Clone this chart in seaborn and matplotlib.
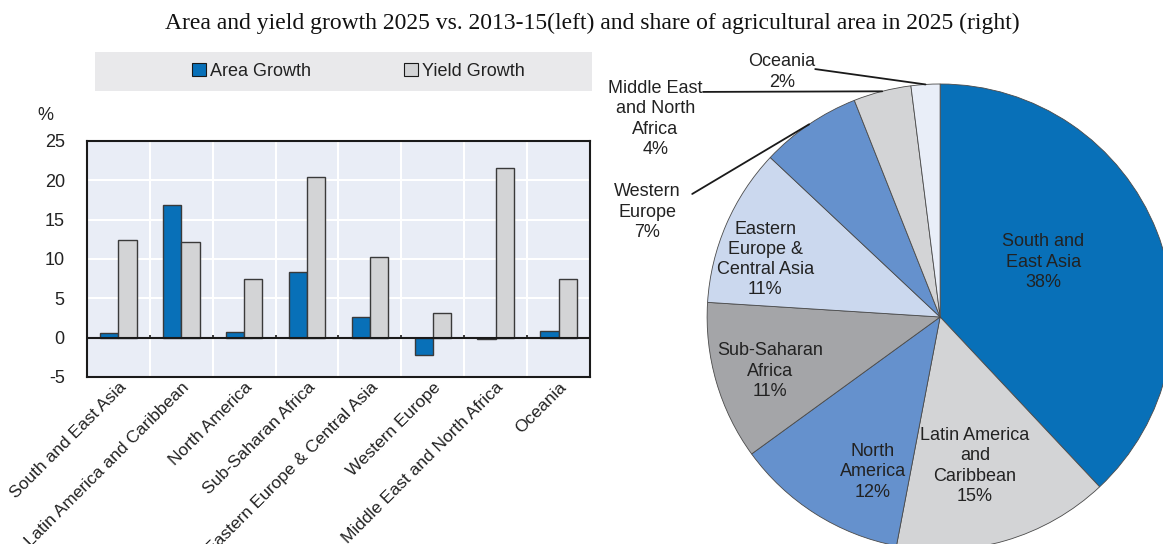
import numpy as np
import pandas as pd
import matplotlib
matplotlib.use("Agg")
import matplotlib.pyplot as plt
from matplotlib.patches import Patch
import seaborn as sns

# data
regions = ["South and East Asia", "Latin America and Caribbean", "North America",
           "Sub-Saharan Africa", "Eastern Europe & Central Asia", "Western Europe",
           "Middle East and North Africa", "Oceania"]
area_growth = [0.6, 16.8, 0.7, 8.3, 2.6, -2.2, -0.2, 0.8]
yield_growth = [12.4, 12.1, 7.4, 20.4, 10.2, 3.1, 21.6, 7.4]

pie_labels = ["South and\nEast Asia", "Latin America\nand\nCaribbean", "North\nAmerica",
              "Sub-Saharan\nAfrica", "Eastern\nEurope &\nCentral Asia", "Western\nEurope",
              "Middle East\nand North\nAfrica", "Oceania"]
pie_shares = [38, 15, 12, 11, 11, 7, 4, 2]

BLUE = "#0870b8"
GREY = "#d3d4d6"
pie_colors = [BLUE, GREY, "#6591cd", "#a4a5a8", "#cbd8ee", "#6591cd", GREY, "#e9eef8"]

sns.set_theme(style="white")
plt.rcParams["font.family"] = ["Liberation Sans Narrow", "Liberation Sans", "DejaVu Sans"]
plt.rcParams["text.color"] = "#222222"
plt.rcParams["axes.unicode_minus"] = False

fig = plt.figure(figsize=(11.63, 5.44), dpi=100)

fig.text(0.509, 0.957, "Area and yield growth 2025 vs. 2013-15(left) and share of agricultural area in 2025 (right)",
         ha="center", va="center", fontsize=17, family=["Liberation Serif", "DejaVu Serif"], color="#111111")

# ---- bar chart ----
ax = fig.add_axes([0.0748, 0.307, 0.4325, 0.434])
df = pd.DataFrame({
    "region": regions * 2,
    "value": area_growth + yield_growth,
    "series": ["Area Growth"] * len(regions) + ["Yield Growth"] * len(regions),
})
sns.barplot(data=df, x="region", y="value", hue="series", palette=[BLUE, GREY], saturation=1,
            width=0.58, edgecolor="#3a3a3a", linewidth=1, legend=False, ax=ax)
ax.set_facecolor("#e9edf6")
ax.set_ylim(-5, 25)
ax.set_xlim(-0.5, len(regions) - 0.5)
ax.set_yticks(np.arange(-5, 26, 5))
ax.set_xticks(np.arange(len(regions)) + 0.5, minor=True)
ax.grid(axis="y", which="major", color="white", linewidth=1.5)
ax.grid(axis="x", which="minor", color="white", linewidth=1.5)
ax.grid(axis="x", which="major", visible=False)
ax.set_axisbelow(True)
ax.axhline(0, color="#1a1a1a", linewidth=1.5)
ax.vlines(np.arange(len(regions) - 1) + 0.5, 0, 0.35, color="#1a1a1a", linewidth=1.2)
ax.tick_params(axis="both", which="both", length=0, labelcolor="#222222")
ax.tick_params(axis="y", labelsize=13, pad=16)
ax.tick_params(axis="x", labelsize=12.5, pad=2)
plt.setp(ax.get_xticklabels(), rotation=45, ha="right", rotation_mode="anchor")
ax.set_xlabel("")
ax.set_ylabel("")
for s in ax.spines.values():
    s.set_color("#1a1a1a")
    s.set_linewidth(1.5)
fig.text(45 / 1163, 1 - 115 / 544, "%", fontsize=13, ha="center", va="center")

# legend strip
lax = fig.add_axes([0.0817, 0.833, 0.4273, 0.071])
lax.set_facecolor("#e9e9eb")
lax.set_xticks([])
lax.set_yticks([])
for s in lax.spines.values():
    s.set_visible(False)
handles = [Patch(facecolor=BLUE, edgecolor="#1a1a1a", linewidth=0.8),
           Patch(facecolor=GREY, edgecolor="#1a1a1a", linewidth=0.8)]
lax.legend(handles, ["Area Growth", "Yield Growth"], loc="center", ncol=2, frameon=False,
           fontsize=13, handlelength=0.75, handleheight=0.75, handletextpad=0.2,
           columnspacing=5.2, bbox_to_anchor=(0.53, 0.5))

# ---- pie chart ----
pax = fig.add_axes([0.608, -0.011, 0.4007, 0.8566])
wedges, _ = pax.pie(pie_shares, colors=pie_colors, startangle=90, counterclock=False,
                    radius=1, wedgeprops=dict(edgecolor="#4a4a4a", linewidth=0.6))
pax.set_xlim(-1, 1)
pax.set_ylim(-1, 1)
pax.set_aspect("equal")
pax.axis("off")
for w in wedges:
    w.set_clip_on(False)

label_text = [f"{lab}\n{v}%" for lab, v in zip(pie_labels, pie_shares)]
inner_pos = [(0.442, 0.236), (0.15, -0.64), (-0.288, -0.665), (-0.73, -0.232), (-0.751, 0.247)]
for i, (x, y) in enumerate(inner_pos):
    pax.text(x, y, label_text[i], ha="center", va="center", fontsize=13, linespacing=1.25,
             clip_on=False)

# outside labels with leader lines
outer_text = {5: (-1.257, 0.45), 6: (-1.223, 0.85), 7: (-0.678, 1.052)}
outer_start = {5: (-1.064, 0.528), 6: (-1.017, 0.966), 7: (-0.536, 1.064)}
for i, (x, y) in outer_text.items():
    pax.text(x, y, label_text[i], ha="center", va="center", fontsize=13, linespacing=1.25,
             clip_on=False)
    w = wedges[i]
    mid = np.deg2rad((w.theta1 + w.theta2) / 2)
    sx, sy = outer_start[i]
    pax.plot([sx, np.cos(mid)], [sy, np.sin(mid)], color="#1a1a1a", linewidth=1.3, clip_on=False)

fig.savefig("out.png", dpi=100)
